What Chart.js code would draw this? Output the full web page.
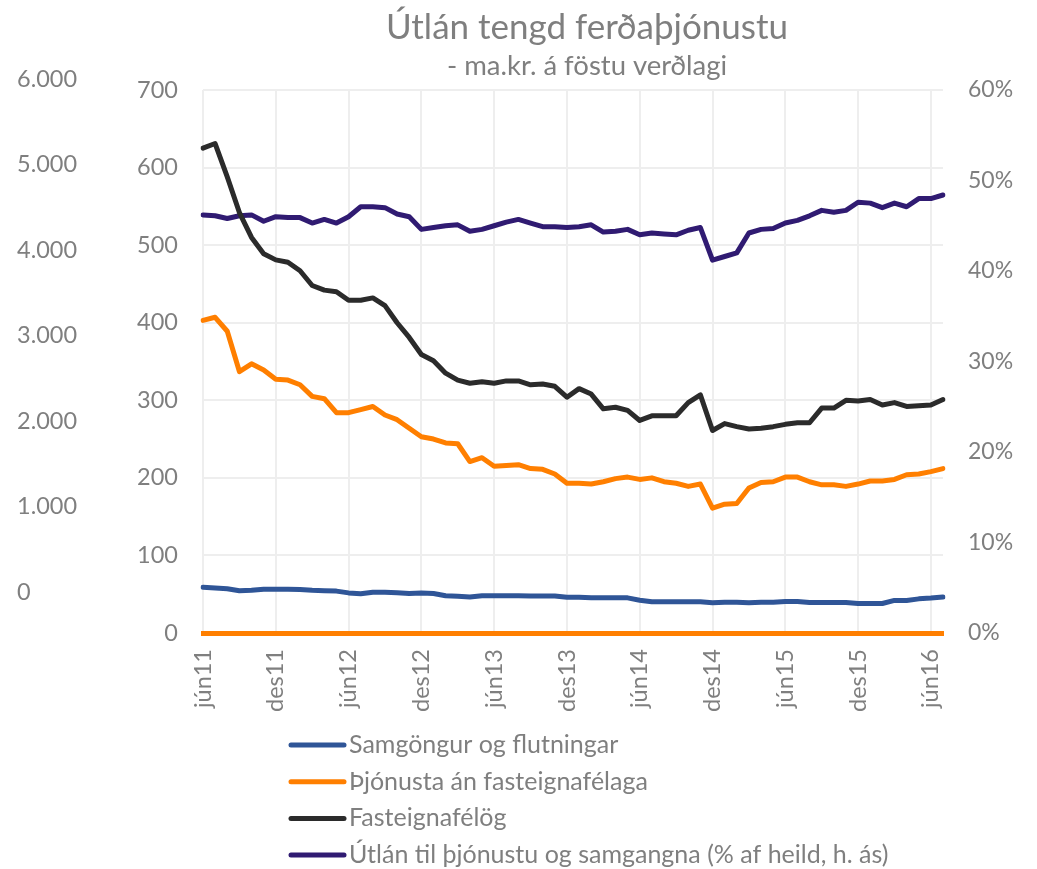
<!DOCTYPE html>
<html lang="is">
<head>
<meta charset="utf-8">
<title>Útlán tengd ferðaþjónustu</title>
<script src="https://cdn.jsdelivr.net/npm/chart.js@4.4.1/dist/chart.umd.min.js"></script>
<style>
  html, body { margin: 0; padding: 0; background: #fff; }
  #umgjord { width: 1037px; height: 869px; position: relative; }
</style>
</head>
<body>
<div id="umgjord"><canvas id="grafUtlan"></canvas></div>
<script>
// mánaðarlegar tölur, jún11 - júl16
const manudir = ['jan', 'feb', 'mar', 'apr', 'maí', 'jún', 'júl', 'ágú', 'sep', 'okt', 'nóv', 'des'];
const timabil = [];
for (let i = 0; i < 62; i++) {
    timabil.push(manudir[(5 + i) % 12] + (11 + Math.floor((5 + i) / 12)));
}

// ma.kr. (vinstri ás)
const samgongur = [59, 58, 57, 54.5, 55, 56.5, 56.5, 56.5, 56, 55, 54.5, 54, 51.7, 50.5, 52.5, 52.5,
    52, 51, 51.7, 51, 48, 47.4, 46.5, 48, 48, 48, 48, 47.7, 47.7, 47.7, 46, 46, 45.3, 45.3, 45.3, 45.3,
    42.3, 40.2, 40.2, 40.2, 40.2, 40.2, 39, 39.7, 39.7, 39, 39.7, 39.7, 40.6, 40.6, 39.3, 39.3, 39.3,
    39.3, 38, 38, 38, 42, 42, 44, 45, 46.5];

const thjonusta = [403, 407, 389, 337, 347, 339, 327, 326, 320, 305, 302, 284, 284, 288, 292, 281,
    275, 264, 253, 250, 245, 244, 221, 226, 215, 216, 217, 212, 211, 205, 193, 193, 192, 195, 199, 201,
    198, 200, 195, 193, 189, 192, 161, 166, 167, 187, 194, 195, 201, 201, 195, 191, 191, 189, 192, 196,
    196, 198, 204, 205, 208, 212];

const fasteignafelog = [625, 631, 588, 542, 510, 489, 481, 478, 467, 448, 442, 440, 429, 429, 432, 422,
    400, 381, 359, 351, 335, 326, 322, 324, 322, 325, 325, 320, 321, 318, 304, 315, 308, 289, 291, 287,
    274, 280, 280, 280, 297, 307, 261, 270, 266, 263, 264, 266, 269, 271, 271, 290, 290, 300, 299, 301,
    294, 297, 292, 293, 294, 301];

// % af heild (hægri ás)
const hlutfall = [46.2, 46.1, 45.8, 46.1, 46.2, 45.5, 46.0, 45.9, 45.9, 45.3, 45.7, 45.3, 46.0, 47.1,
    47.1, 47.0, 46.3, 46.0, 44.6, 44.8, 45.0, 45.1, 44.4, 44.6, 45.0, 45.4, 45.7, 45.3, 44.9, 44.9, 44.8,
    44.9, 45.1, 44.3, 44.4, 44.6, 44.0, 44.2, 44.1, 44.0, 44.5, 44.8, 41.2, 41.6, 42.0, 44.2, 44.6, 44.7,
    45.3, 45.6, 46.1, 46.7, 46.5, 46.7, 47.6, 47.5, 47.0, 47.5, 47.1, 48.0, 48.0, 48.4];

// stakur ás lengst til vinstri
const ytriAsTikk = [0, 1000, 2000, 3000, 4000, 5000, 6000];

const grar = '#7f7f7f';
const leturFjolskylda = 'Lato, "Open Sans", sans-serif';

Chart.defaults.font.family = leturFjolskylda;
Chart.defaults.color = grar;

const thusund = (v) => String(v).replace(/\B(?=(\d{3})+(?!\d))/g, '.');

// titill, undirtitill og skýringar teiknað beint
const textar = {
    id: 'textar',
    afterDraw(chart) {
        const c = chart.ctx;
        c.save();
        c.fillStyle = grar;
        c.textAlign = 'center';
        c.textBaseline = 'middle';
        c.font = '35px ' + leturFjolskylda;
        c.fillText('Útlán tengd ferðaþjónustu', 587, 28);
        c.font = '27.5px ' + leturFjolskylda;
        c.fillText('- ma.kr. á föstu verðlagi', 587, 66);

        c.textAlign = 'left';
        c.font = '25px ' + leturFjolskylda;
        chart.data.datasets.forEach((ds, i) => {
            const y = 745 + i * 36.7;
            c.strokeStyle = ds.borderColor;
            c.lineWidth = 5;
            c.lineCap = 'round';
            c.beginPath();
            c.moveTo(291, y);
            c.lineTo(344, y);
            c.stroke();
            c.fillText(ds.label, 349, y);
        });
        c.restore();
    }
};

const ctx = document.getElementById('grafUtlan');

new Chart(ctx, {
    type: 'line',
    data: {
        labels: timabil,
        datasets: [
            { label: 'Samgöngur og flutningar', data: samgongur, borderColor: '#2f5597', yAxisID: 'y' },
            { label: 'Þjónusta án fasteignafélaga', data: thjonusta, borderColor: '#ff7f00', yAxisID: 'y' },
            { label: 'Fasteignafélög', data: fasteignafelog, borderColor: '#2b2b2b', yAxisID: 'y' },
            { label: 'Útlán til þjónustu og samgangna (% af heild, h. ás)', data: hlutfall, borderColor: '#301b72', yAxisID: 'y2' }
        ]
    },
    options: {
        responsive: true,
        maintainAspectRatio: false,
        animation: false,
        layout: { padding: { left: 17, right: 0, top: 90, bottom: 136 } },
        elements: {
            line: { borderWidth: 5, tension: 0, borderJoinStyle: 'round', borderCapStyle: 'round' },
            point: { radius: 0, hoverRadius: 0 }
        },
        plugins: {
            legend: { display: false },
            title: { display: false },
            tooltip: { enabled: false }
        },
        scales: {
            x: {
                type: 'category',
                position: 'bottom',
                afterBuildTicks(s) {
                    s.ticks = s.ticks.filter((t, i) => i % 6 === 0);
                },
                afterFit(s) { s.height = 100; },
                ticks: {
                    autoSkip: false,
                    minRotation: 90,
                    maxRotation: 90,
                    padding: 16,
                    font: { size: 23.5 }
                },
                grid: { color: '#eeeeee', lineWidth: 2, drawTicks: false },
                border: { display: true, color: '#ff7f00', width: 5 }
            },
            yYtri: {
                type: 'linear',
                position: 'left',
                weight: 10,
                min: -480,
                max: 5871,
                afterBuildTicks(s) {
                    s.ticks = ytriAsTikk.map(v => ({ value: v }));
                },
                afterFit(s) { s.width = 100; },
                ticks: {
                    crossAlign: 'far',
                    font: { size: 23.5 },
                    callback: (v) => thusund(v)
                },
                grid: { display: false, drawTicks: false },
                border: { display: false }
            },
            y: {
                type: 'linear',
                position: 'left',
                weight: 0,
                min: 0,
                max: 700,
                afterFit(s) { s.width = 86; },
                ticks: { stepSize: 100, padding: 25, font: { size: 23.5 } },
                grid: { color: '#eeeeee', lineWidth: 2, drawTicks: false },
                border: { display: false }
            },
            y2: {
                type: 'linear',
                position: 'right',
                min: 0,
                max: 60,
                afterFit(s) { s.width = 94; },
                ticks: { stepSize: 10, padding: 25, font: { size: 23 }, callback: (v) => v + '%' },
                grid: { display: false, drawTicks: false },
                border: { display: false }
            }
        }
    },
    plugins: [textar]
});
</script>
</body>
</html>
